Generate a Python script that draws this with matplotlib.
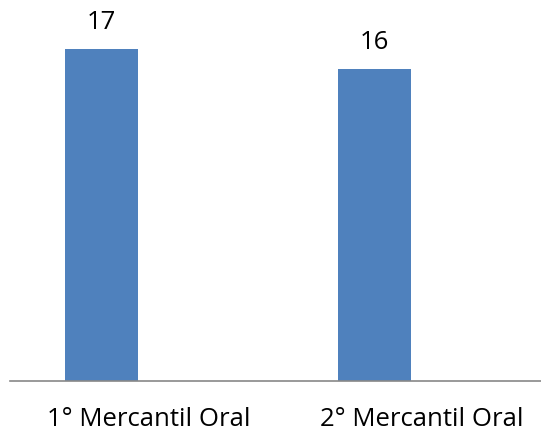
import matplotlib
matplotlib.use("Agg")
import matplotlib.pyplot as plt

categories = ["1° Mercantil Oral", "2° Mercantil Oral"]
values = [17, 16]

W, H = 541, 432
fig = plt.figure(figsize=(W/100, H/100), dpi=100)
left_px, right_px, base_px = 10, 541, 381
ax = fig.add_axes([left_px/W, (H-base_px)/H, (right_px-left_px)/W, base_px/H])

x = list(range(len(categories)))
off = -0.172
xb = [xi + off for xi in x]
ax.bar(xb, values, width=0.267, color="#4F81BD")
ax.set_xlim(-0.507, 1.438)
ax.set_ylim(0, 381/19.53)

FS = 18.5
for xi, v in zip(xb, values):
    ax.annotate(str(v), (xi, v), xytext=(0, 20), textcoords="offset pixels",
                ha="center", va="baseline", fontsize=FS, family="Open Sans", color="black")

ax.set_xticks(x)
ax.set_xticklabels(categories, fontsize=FS, family="Open Sans")
for lab in ax.get_xticklabels():
    lab.set_va("baseline")
ax.tick_params(axis="x", length=0, pad=45*0.72)
ax.set_yticks([])
for s in ["top", "right", "left"]:
    ax.spines[s].set_visible(False)
ax.spines["bottom"].set_color("#888888")
ax.spines["bottom"].set_linewidth(1.2)

fig.savefig("out.png", dpi=100)
